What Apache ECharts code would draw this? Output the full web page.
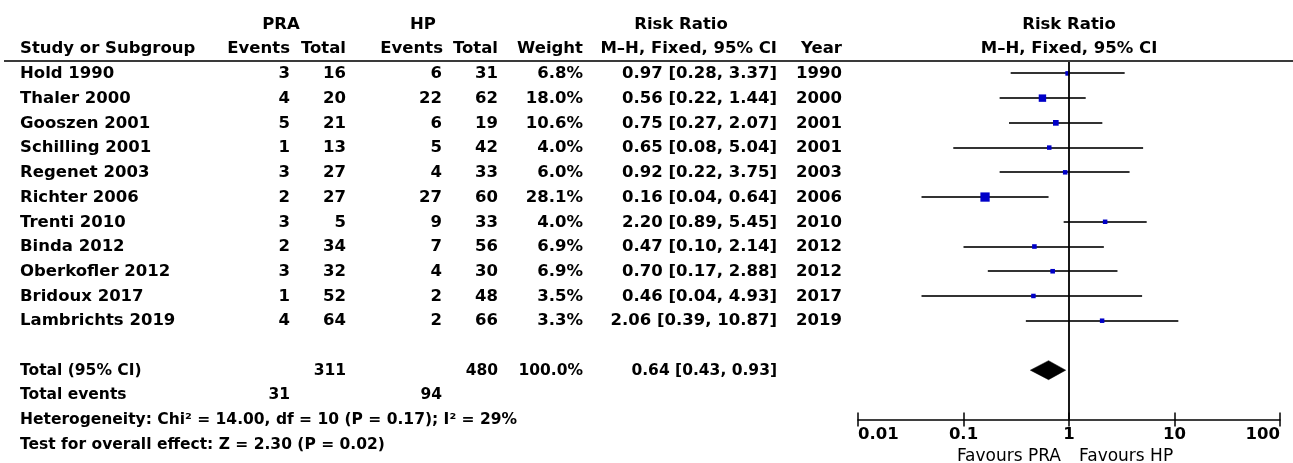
<!DOCTYPE html>
<html>
<head>
<meta charset="utf-8">
<title>Risk Ratio forest plot: PRA vs HP</title>
<script src="https://cdn.jsdelivr.net/npm/echarts@6/dist/echarts.min.js"></script>
<style>
  html, body { margin: 0; padding: 0; background: #fff; }
  #chart { width: 1293px; height: 463px; }
</style>
</head>
<body>
<div id="chart"></div>
<script>
// ---- study data ----
const studies = ['Hold 1990', 'Thaler 2000', 'Gooszen 2001', 'Schilling 2001', 'Regenet 2003',
  'Richter 2006', 'Trenti 2010', 'Binda 2012', 'Oberkofler 2012', 'Bridoux 2017', 'Lambrichts 2019'];
const praEvents = [3, 4, 5, 1, 3, 2, 3, 2, 3, 1, 4];
const praTotal  = [16, 20, 21, 13, 27, 27, 5, 34, 32, 52, 64];
const hpEvents  = [6, 22, 6, 5, 4, 27, 9, 7, 4, 2, 2];
const hpTotal   = [31, 62, 19, 42, 33, 60, 33, 56, 30, 48, 66];
const weights   = [6.8, 18.0, 10.6, 4.0, 6.0, 28.1, 4.0, 6.9, 6.9, 3.5, 3.3];
const riskRatio = [0.97, 0.56, 0.75, 0.65, 0.92, 0.16, 2.20, 0.47, 0.70, 0.46, 2.06];
const ciLow     = [0.28, 0.22, 0.27, 0.08, 0.22, 0.04, 0.89, 0.10, 0.17, 0.04, 0.39];
const ciHigh    = [3.37, 1.44, 2.07, 5.04, 3.75, 0.64, 5.45, 2.14, 2.88, 4.93, 10.87];
const years     = [1990, 2000, 2001, 2001, 2003, 2006, 2010, 2012, 2012, 2017, 2019];

// ---- pooled result ----
const pooledRR = [0.64, 0.43, 0.93];       // estimate, lower, upper
const pooledTotals = [311, 480];           // PRA, HP participants
const pooledWeight = 100.0;
const pooledEvents = [31, 94];             // PRA, HP events
const heterogeneityText = 'Heterogeneity: Chi² = 14.00, df = 10 (P = 0.17); I² = 29%';
const overallEffectText = 'Test for overall effect: Z = 2.30 (P = 0.02)';

// ---- axis ----
const tickValues = [0.01, 0.1, 1, 10, 100];
const tickLabels = ['0.01', '0.1', '1', '10', '100'];
const favourLabels = ['Favours PRA', 'Favours HP'];

// ---- layout ----
const ROW_TOTAL = 12, ROW_EVENTS = 13, ROW_HET = 14, ROW_TEST = 15, ROW_FAVOURS = 15.47;
const FONT = '"DejaVu Sans", sans-serif';
const fHead = 'bold 16.5px ' + FONT;
const fBody = 'bold 16.5px ' + FONT;
const fTotal = 'bold 15.5px ' + FONT;
const fFoot = 'bold 15.5px ' + FONT;
const fFav = 'normal 17px ' + FONT;

// columns: x position (px) and alignment
const COL = {
  name: [20, 'left'], praE: [290, 'right'], praT: [346, 'right'],
  hpE: [442, 'right'], hpT: [498, 'right'], weight: [583, 'right'],
  rr: [777, 'right'], year: [842, 'right']
};

const fmtCI = (e, l, h) => e.toFixed(2) + ' [' + l.toFixed(2) + ', ' + h.toFixed(2) + ']';

// build table cells
const cells = [];
function cell(x, row, text, align, font) { cells.push({ x, row, text: String(text), align, font }); }

cell(281, -2, 'PRA', 'center', fHead);
cell(423, -2, 'HP', 'center', fHead);
cell(681, -2, 'Risk Ratio', 'center', fHead);
cell(1069, -2, 'Risk Ratio', 'center', fHead);
cell(COL.name[0], -1, 'Study or Subgroup', 'left', fHead);
cell(COL.praE[0], -1, 'Events', 'right', fHead);
cell(COL.praT[0], -1, 'Total', 'right', fHead);
cell(COL.hpE[0] + 1, -1, 'Events', 'right', fHead);
cell(COL.hpT[0], -1, 'Total', 'right', fHead);
cell(COL.weight[0], -1, 'Weight', 'right', fHead);
cell(COL.rr[0], -1, 'M\u2013H, Fixed, 95% CI', 'right', fHead);
cell(COL.year[0], -1, 'Year', 'right', fHead);
cell(1069, -1, 'M\u2013H, Fixed, 95% CI', 'center', fHead);

studies.forEach((s, i) => {
  cell(COL.name[0], i, s, 'left', fBody);
  cell(COL.praE[0], i, praEvents[i], 'right', fBody);
  cell(COL.praT[0], i, praTotal[i], 'right', fBody);
  cell(COL.hpE[0], i, hpEvents[i], 'right', fBody);
  cell(COL.hpT[0], i, hpTotal[i], 'right', fBody);
  cell(COL.weight[0], i, weights[i].toFixed(1) + '%', 'right', fBody);
  cell(COL.rr[0], i, fmtCI(riskRatio[i], ciLow[i], ciHigh[i]), 'right', fBody);
  cell(COL.year[0], i, years[i], 'right', fBody);
});

cell(COL.name[0], ROW_TOTAL, 'Total (95% CI)', 'left', fTotal);
cell(COL.praT[0], ROW_TOTAL, pooledTotals[0], 'right', fTotal);
cell(COL.hpT[0], ROW_TOTAL, pooledTotals[1], 'right', fTotal);
cell(COL.weight[0], ROW_TOTAL, pooledWeight.toFixed(1) + '%', 'right', fTotal);
cell(COL.rr[0], ROW_TOTAL, fmtCI(pooledRR[0], pooledRR[1], pooledRR[2]), 'right', fTotal);
cell(COL.name[0], ROW_EVENTS, 'Total events', 'left', fFoot);
cell(COL.praE[0], ROW_EVENTS, pooledEvents[0], 'right', fFoot);
cell(COL.hpE[0], ROW_EVENTS, pooledEvents[1], 'right', fFoot);
cell(COL.name[0], ROW_HET, heterogeneityText, 'left', fFoot);
cell(COL.name[0], ROW_TEST, overallEffectText, 'left', fFoot);
cell(1061, ROW_FAVOURS, favourLabels[0], 'right', fFav);
cell(1079, ROW_FAVOURS, favourLabels[1], 'left', fFav);

// vertical row scale shared by table and plot
const ROW_PX = 24.73, ROW0_Y = 73.4, W = 1293, H = 463;
const rowY = r => ROW0_Y + r * ROW_PX;

const chart = echarts.init(document.getElementById('chart'), null, { renderer: 'canvas' });

const rowIdx = studies.map((_, i) => i);
const boxSize = w => Math.max(4.5, 1.75 * Math.sqrt(w));

chart.setOption({
  animation: false,
  backgroundColor: '#fff',
  grid: [
    { left: 858, right: W - 1280, top: rowY(-0.5), bottom: H - rowY(ROW_HET) },
    { left: 0, right: 0, top: rowY(-2.5), bottom: H - rowY(15.5) }
  ],
  xAxis: [
    {
      type: 'log', logBase: 10, min: 0.01, max: 100, gridIndex: 0, position: 'bottom',
      axisLine: { onZero: false, lineStyle: { color: '#000', width: 1.5 } },
      axisTick: { show: true, inside: false, length: 7, lineStyle: { color: '#000', width: 1.5 } },
      splitLine: { show: false },
      minorTick: { show: false },
      axisLabel: {
        color: '#000', fontFamily: 'DejaVu Sans', fontWeight: 'bold', fontSize: 16.5, margin: 7,
        alignMinLabel: 'left', alignMaxLabel: 'right',
        formatter: v => {
          const i = tickValues.findIndex(t => Math.abs(Math.log10(t) - Math.log10(v)) < 1e-6);
          return i >= 0 ? tickLabels[i] : '';
        }
      }
    },
    {
      type: 'log', logBase: 10, min: 0.01, max: 100, gridIndex: 0, position: 'bottom',
      axisLine: { show: false, onZero: false },
      axisTick: { show: true, inside: true, length: 7, lineStyle: { color: '#000', width: 1.5 } },
      axisLabel: { show: false }, splitLine: { show: false }
    },
    { type: 'value', min: 0, max: W, gridIndex: 1, show: false }
  ],
  yAxis: [
    { type: 'value', min: -0.5, max: ROW_HET, inverse: true, gridIndex: 0, show: false },
    { type: 'value', min: -2.5, max: 15.5, inverse: true, gridIndex: 1, show: false }
  ],
  graphic: [
    { type: 'line', shape: { x1: 4, y1: rowY(-0.5), x2: W, y2: rowY(-0.5) },
      style: { stroke: '#3a3a3a', lineWidth: 2 }, silent: true, z: 10 }
  ],
  series: [
    // table text
    {
      type: 'custom', xAxisIndex: 2, yAxisIndex: 1, silent: true, clip: false,
      data: cells.map(c => [c.x, c.row]),
      renderItem: (params, api) => {
        const c = cells[params.dataIndex];
        const p = api.coord([api.value(0), api.value(1)]);
        return {
          type: 'text', x: p[0], y: p[1] + 0.5,
          style: { text: c.text, font: c.font, fill: '#000', align: c.align, verticalAlign: 'middle' }
        };
      }
    },
    // confidence intervals (snapped to whole pixels for a crisp 2px stroke)
    {
      type: 'custom', xAxisIndex: 0, yAxisIndex: 0, silent: true, z: 2,
      encode: { x: [0, 1], y: 2 },
      data: rowIdx.map(i => [ciLow[i], ciHigh[i], i]),
      renderItem: (params, api) => {
        const a = api.coord([api.value(0), api.value(2)]);
        const b = api.coord([api.value(1), api.value(2)]);
        const y = Math.round(a[1]);
        return {
          type: 'line', shape: { x1: a[0], y1: y, x2: b[0], y2: y },
          style: { stroke: '#333', lineWidth: 2 }
        };
      }
    },
    // study point estimates, box area by weight
    {
      type: 'scatter', xAxisIndex: 0, yAxisIndex: 0, silent: true, z: 4,
      symbol: 'rect',
      data: rowIdx.map(i => ({ value: [riskRatio[i], i], symbolSize: boxSize(weights[i]) })),
      itemStyle: { color: '#0000C8', opacity: 1 },
      markLine: {
        silent: true, symbol: ['none', 'none'], label: { show: false },
        lineStyle: { color: '#000', width: 1.8, type: 'solid' },
        data: [{ xAxis: 1 }]
      }
    },
    // pooled estimate diamond
    {
      type: 'custom', xAxisIndex: 0, yAxisIndex: 0, silent: true, z: 5,
      encode: { x: [0, 1, 2], y: 3 },
      data: [[pooledRR[0], pooledRR[1], pooledRR[2], ROW_TOTAL]],
      renderItem: (params, api) => {
        const row = api.value(3);
        const c = api.coord([api.value(0), row]);
        const l = api.coord([api.value(1), row]);
        const r = api.coord([api.value(2), row]);
        const h = 9.5;
        return {
          type: 'polygon',
          shape: { points: [[l[0], c[1]], [c[0], c[1] - h], [r[0], c[1]], [c[0], c[1] + h]] },
          style: { fill: '#000', stroke: '#000', lineWidth: 0.5 }
        };
      }
    }
  ]
});
</script>
</body>
</html>
